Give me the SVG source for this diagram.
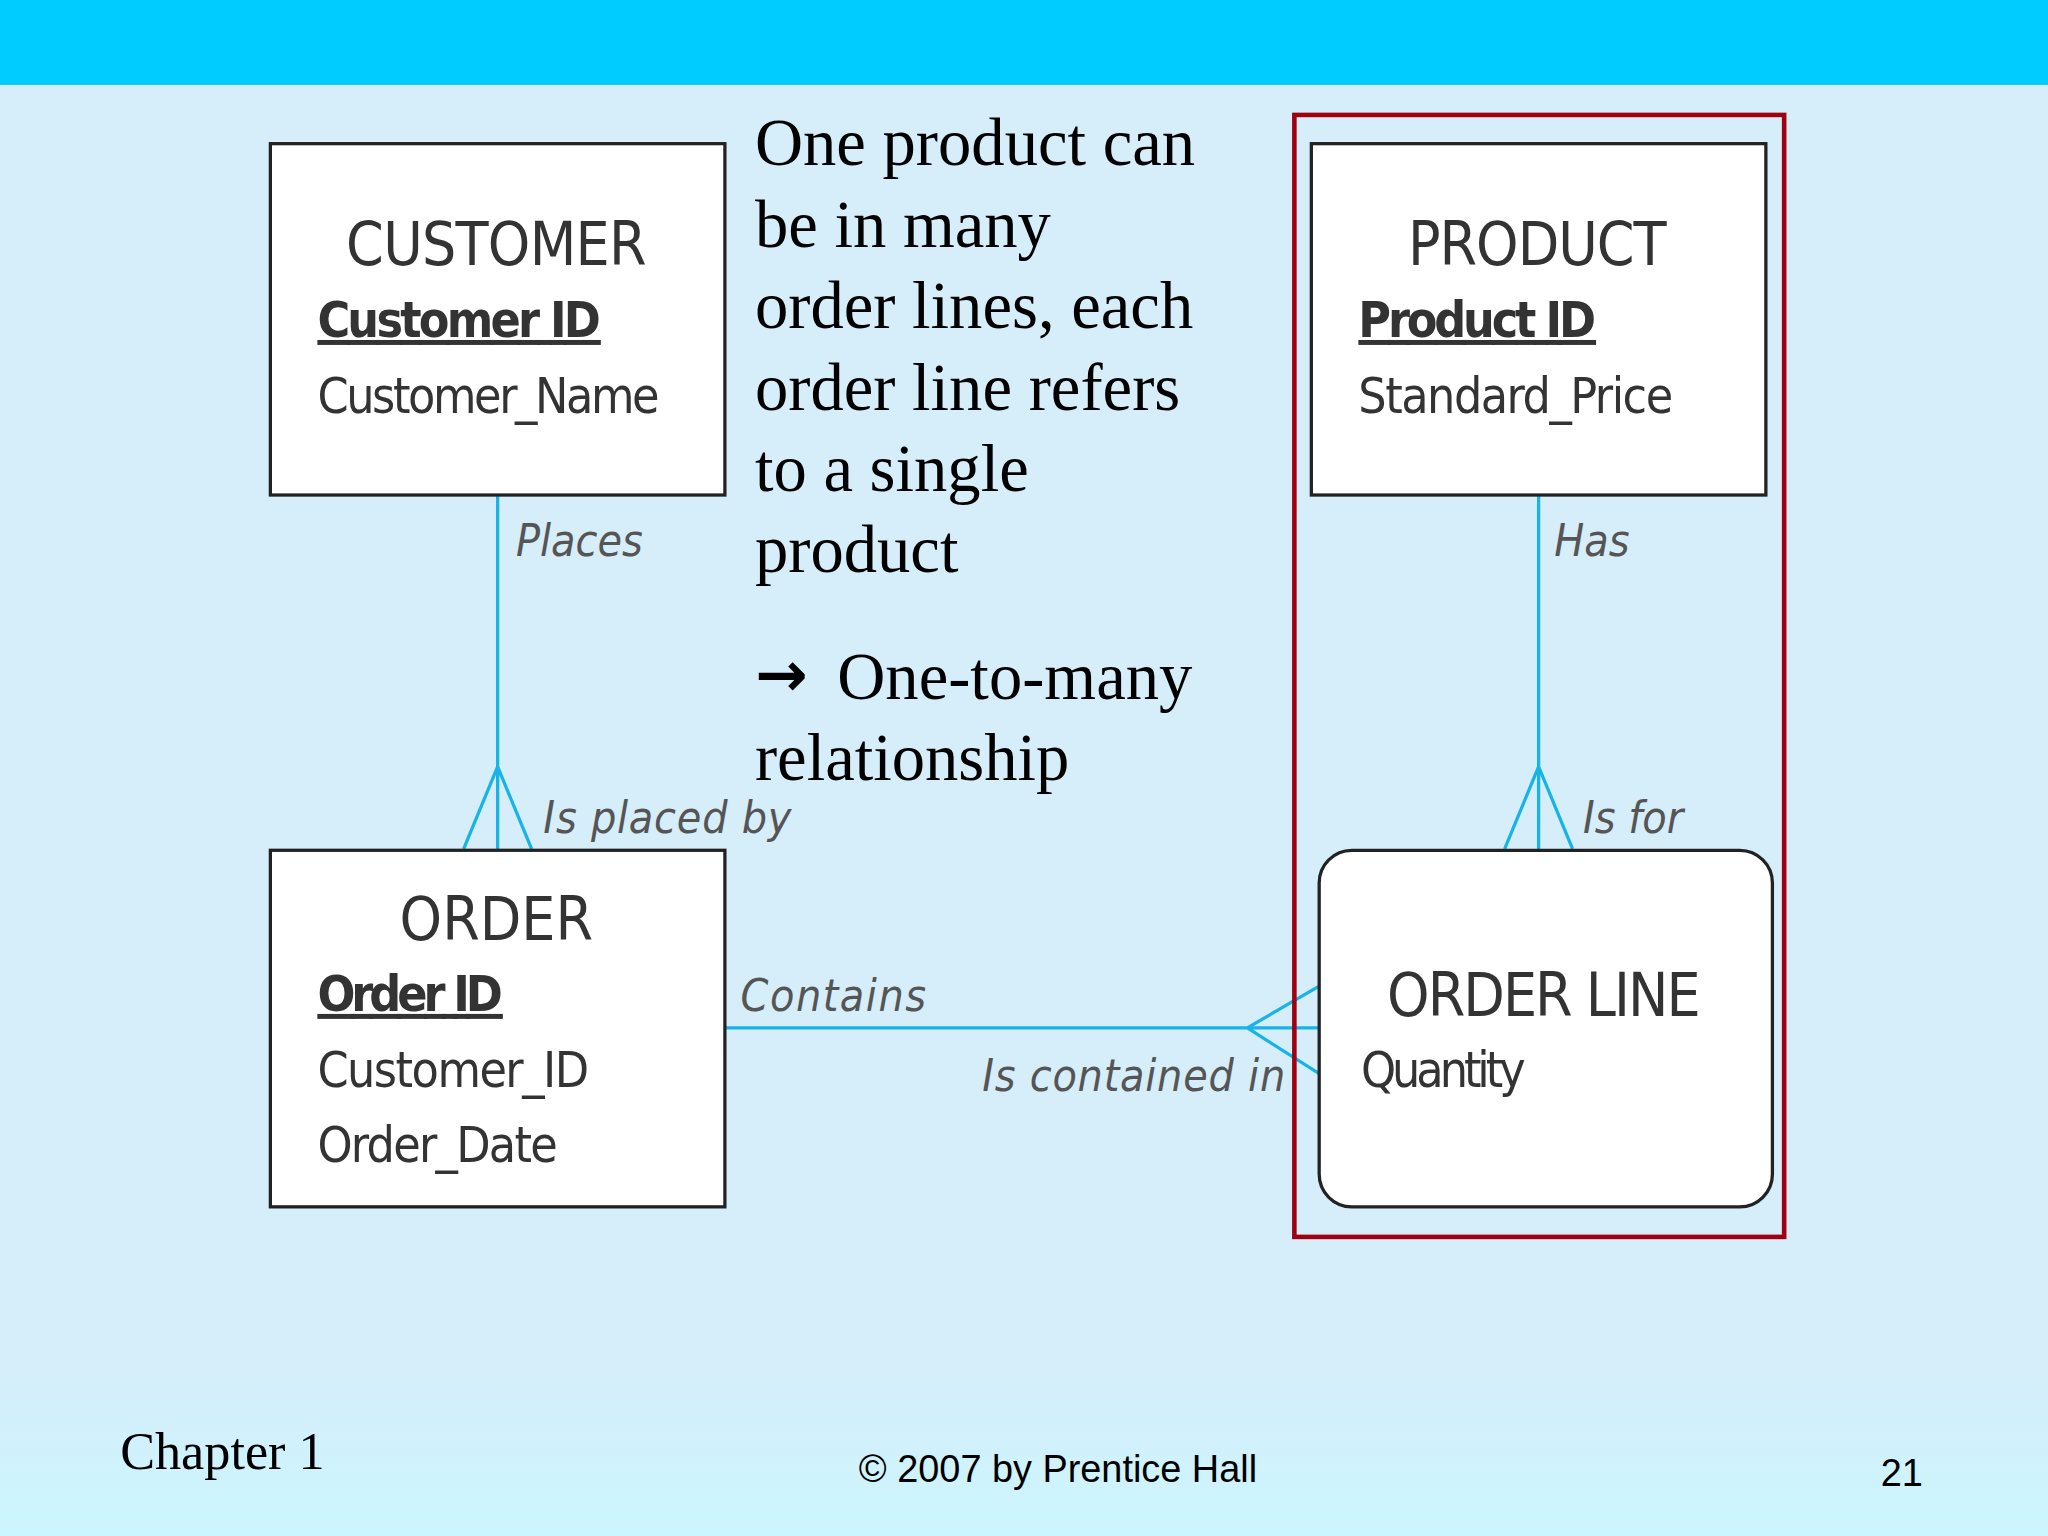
<svg xmlns="http://www.w3.org/2000/svg" width="2048" height="1536" viewBox="0 0 2048 1536">
<defs><style>
.box{fill:#fff;stroke:#222;stroke-width:2.5}
.t{font-family:"DejaVu Sans Condensed","DejaVu Sans",sans-serif;fill:#333}
.h{font-size:46px}
.a{font-size:38px}
.k{text-decoration:underline;font-weight:bold}
.lab{font-family:"DejaVu Sans Condensed","DejaVu Sans",sans-serif;font-style:italic;font-size:34px;fill:#555}
.c{stroke:#18B4E8;stroke-width:2.5;fill:none}
.s{font-family:"Liberation Serif",serif;font-size:51px;fill:#000}
</style>
<linearGradient id="bt" x1="0" y1="0" x2="0" y2="1"><stop offset="0" stop-color="#D4EEFA"/><stop offset="1" stop-color="#CCF6FF"/></linearGradient></defs>
<g transform="scale(1.30612)">
<rect width="1568" height="1176" fill="#D6EDFA"/>
<rect width="1568" height="65" fill="#00CCFF"/>
<rect y="1058" width="1568" height="118" fill="url(#bt)"/>
<g id="connectors">
<path class="c" d="M381 379V650M381 587L355 650M381 587L407 650"/>
<path class="c" d="M1178 379V650M1178 587L1152 650M1178 587L1204 650"/>
<path class="c" d="M555 787H1010M955 787L1010 755M955 787L1010 822"/>
<text class="lab" x="395" y="426">Places</text>
<text class="lab" x="416" y="638" textLength="190">Is placed by</text>
<text class="lab" x="1190" y="426">Has</text>
<text class="lab" x="1212" y="638">Is for</text>
<text class="lab" x="567" y="774" textLength="142">Contains</text>
<text class="lab" x="752" y="835" textLength="232">Is contained in</text>
</g>
<g id="customer"><rect class="box" x="207" y="110" width="348" height="269"/>
<text class="t h" x="265" y="203" textLength="230">CUSTOMER</text>
<text class="t a k" x="243" y="258" textLength="217">Customer ID</text>
<text class="t a" x="243" y="316" textLength="262">Customer_Name</text></g>
<g id="order"><rect class="box" x="207" y="651" width="348" height="273"/>
<text class="t h" x="380" y="720" text-anchor="middle">ORDER</text>
<text class="t a k" x="243" y="774" textLength="142">Order ID</text>
<text class="t a" x="243" y="832" textLength="208">Customer_ID</text>
<text class="t a" x="243" y="890" textLength="184">Order_Date</text></g>
<g id="product"><rect class="box" x="1004" y="110" width="348" height="269"/>
<text class="t h" x="1078" y="203" textLength="198">PRODUCT</text>
<text class="t a k" x="1040" y="258" textLength="182">Product ID</text>
<text class="t a" x="1040" y="316" textLength="241">Standard_Price</text></g>
<g id="orderline"><rect class="box" x="1010" y="651" width="347" height="273" rx="25"/>
<text class="t h" x="1062" y="778" textLength="240">ORDER LINE</text>
<text class="t a" x="1042" y="832" textLength="126">Quantity</text></g>
<rect id="highlight" x="991" y="88" width="375" height="859" fill="none" stroke="#A00010" stroke-width="3.5"/>
<g id="note" class="s">
<text x="578" y="126">One product can</text>
<text x="578" y="189">be in many</text>
<text x="578" y="251">order lines, each</text>
<text x="578" y="314">order line refers</text>
<text x="578" y="376">to a single</text>
<text x="578" y="438">product</text>
<text x="578" y="533" font-family="DejaVu Sans,sans-serif" font-size="48" font-weight="bold">→</text>
<text x="641" y="535">One-to-many</text>
<text x="578" y="597">relationship</text>
</g>
<text x="92" y="1125" font-family="Liberation Serif,serif" font-size="40">Chapter 1</text>
<text x="810" y="1135" text-anchor="middle" font-family="Liberation Sans,sans-serif" font-size="29">© 2007 by Prentice Hall</text>
<text x="1440" y="1138" font-family="Liberation Sans,sans-serif" font-size="29">21</text>
</g>
</svg>
